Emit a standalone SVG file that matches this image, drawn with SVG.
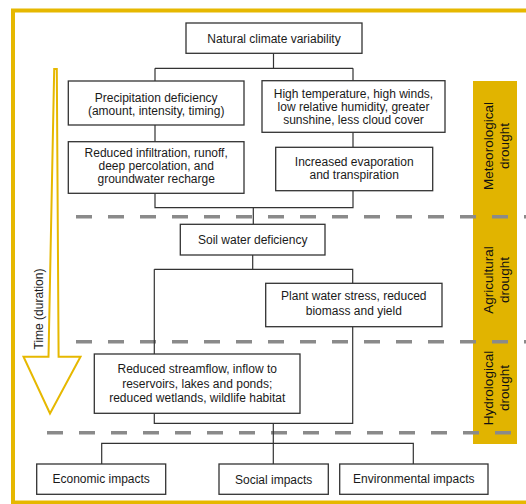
<svg xmlns="http://www.w3.org/2000/svg" width="526" height="504" viewBox="0 0 526 504">
<style>
text{font-family:"Liberation Sans",Arial,sans-serif;font-size:12px;fill:#1a1a1a;text-anchor:middle}
.box{fill:#fff;stroke:#333;stroke-width:1.3}
.con{fill:none;stroke:#333;stroke-width:1.2}
.dash{fill:none;stroke:#8a8a8a;stroke-width:3.5;stroke-dasharray:16 16}
.band text{font-size:13.5px;fill:#111}
</style>
<rect width="526" height="504" fill="#fff"/>
<rect x="13" y="10.5" width="600" height="492" fill="none" stroke="#E6B800" stroke-width="4"/>
<g id="bands" class="band">
<rect x="473" y="81" width="44" height="363" fill="#E1B400"/>
<text transform="translate(495,146) rotate(-90)"><tspan x="0" y="-2">Meteorological</tspan><tspan x="0" y="14">drought</tspan></text>
<text transform="translate(495,280) rotate(-90)"><tspan x="0" y="-2">Agricultural</tspan><tspan x="0" y="14">drought</tspan></text>
<text transform="translate(495,388) rotate(-90)"><tspan x="0" y="-2">Hydrological</tspan><tspan x="0" y="14">drought</tspan></text>
</g>
<g id="dividers">
<line class="dash" x1="76" y1="216.7" x2="540" y2="216.7"/>
<line class="dash" x1="76" y1="341.7" x2="540" y2="341.7"/>
<line class="dash" x1="47" y1="432.7" x2="511" y2="432.7"/>
</g>
<g id="time-arrow">
<polygon points="54.2,69 56.8,69 58.6,356.7 80.5,356.7 50,413.5 23.5,356.7 48.5,356.7" fill="#fff" stroke="#E6B800" stroke-width="2" stroke-linejoin="miter"/>
<text transform="translate(43,309) rotate(-90)">Time (duration)</text>
</g>
<g id="connectors" class="con">
<path d="M273.5,53.3V68.3M155,68.3H353M155,68.3V81M353,68.3V80.7"/>
<path d="M155,125V141.7M353,132.3V147.3"/>
<path d="M155,193.3V207.7H353V190.7M253.3,207.7V224.3"/>
<path d="M252.7,255V269.3M154.3,269.3H352.7V283.3M154.3,269.3V354"/>
<path d="M352.7,326.7V423.3H154.3V413.3M273.3,423.3V464M101.7,464V443.3H413.3V464"/>
</g>
<g id="n-natural"><rect class="box" x="186" y="23" width="176" height="30.3"/><text x="274" y="43">Natural climate variability</text></g>
<g id="n-precip"><rect class="box" x="68.3" y="81" width="175.7" height="44"/><text x="156.2" y="102">Precipitation deficiency</text><text x="156.2" y="115">(amount, intensity, timing)</text></g>
<g id="n-hightemp"><rect class="box" x="262" y="80.7" width="183" height="51.6"/><text x="353.5" y="98">High temperature, high winds,</text><text x="353.5" y="111">low relative humidity, greater</text><text x="353.5" y="124">sunshine, less cloud cover</text></g>
<g id="n-infiltration"><rect class="box" x="68.3" y="141.7" width="175.7" height="51.6"/><text x="156.2" y="156.5">Reduced infiltration, runoff,</text><text x="156.2" y="169.5">deep percolation, and</text><text x="156.2" y="182.5">groundwater recharge</text></g>
<g id="n-evap"><rect class="box" x="275.7" y="147.3" width="157" height="43.4"/><text x="354.2" y="166">Increased evaporation</text><text x="354.2" y="179">and transpiration</text></g>
<g id="n-soil"><rect class="box" x="180.3" y="224.3" width="144.7" height="30.7"/><text x="252.7" y="244.3">Soil water deficiency</text></g>
<g id="n-plant"><rect class="box" x="265.7" y="283.3" width="176.3" height="43.4"/><text x="353.8" y="300">Plant water stress, reduced</text><text x="353.8" y="315">biomass and yield</text></g>
<g id="n-streamflow"><rect class="box" x="94.3" y="354" width="205.7" height="59.3"/><text x="197.2" y="373">Reduced streamflow, inflow to</text><text x="197.2" y="387.5">reservoirs, lakes and ponds;</text><text x="197.2" y="401.5">reduced wetlands, wildlife habitat</text></g>
<g id="n-economic"><rect class="box" x="36.7" y="464" width="129" height="30.3"/><text x="101.2" y="483">Economic impacts</text></g>
<g id="n-social"><rect class="box" x="219" y="464" width="109.3" height="30.3"/><text x="273.7" y="483.5">Social impacts</text></g>
<g id="n-environmental"><rect class="box" x="339.7" y="464" width="148.3" height="30.3"/><text x="413.8" y="483">Environmental impacts</text></g>
</svg>
